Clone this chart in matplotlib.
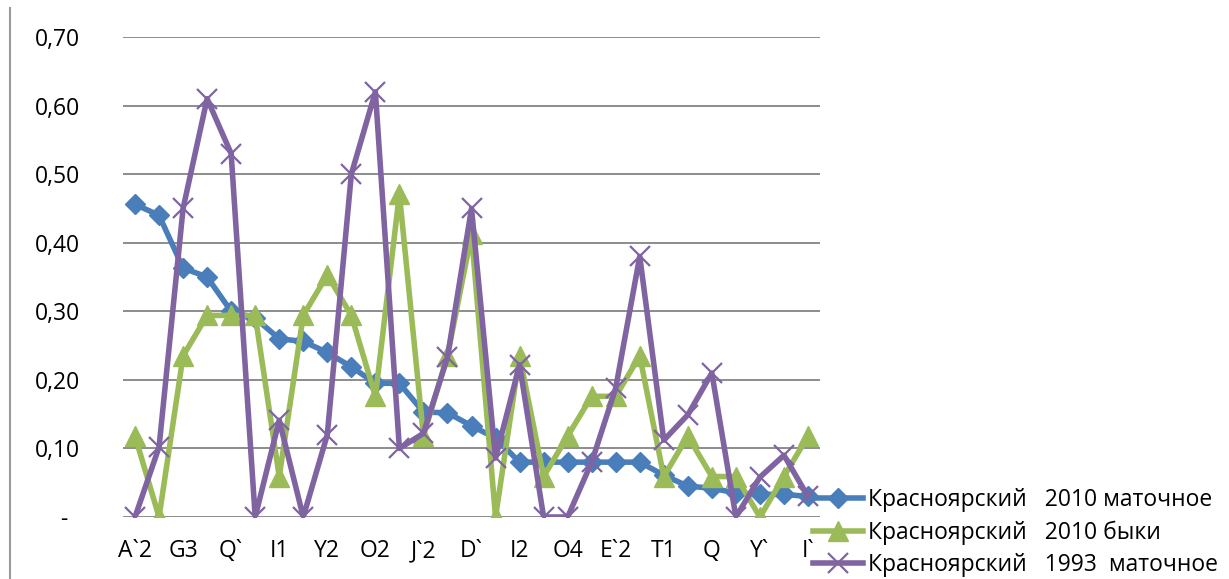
import matplotlib.pyplot as plt
import numpy as np
from matplotlib.lines import Line2D

plt.rcParams['font.family'] = ['Open Sans', 'DejaVu Sans']

# allele labels, shown on every second category
labels = ["A`2", "G3", "Q`", "I1", "Y2", "O2", "J`2", "D`", "I2", "O4", "E`2", "T1", "Q", "Y`", "I`"]

# frequencies per category (29 categories)
cows_2010 = [0.456, 0.44, 0.363, 0.35, 0.30, 0.29, 0.26, 0.256, 0.24, 0.219,
             0.195, 0.195, 0.153, 0.152, 0.133, 0.115, 0.08, 0.08, 0.08, 0.08,
             0.08, 0.08, 0.061, 0.045, 0.042, 0.035, 0.033, 0.033, 0.03]
bulls_2010 = [0.118, 0.0, 0.235, 0.294, 0.294, 0.294, 0.059, 0.294, 0.353, 0.294,
              0.176, 0.471, 0.118, 0.235, 0.412, 0.0, 0.235, 0.059, 0.118, 0.176,
              0.176, 0.235, 0.059, 0.118, 0.059, 0.059, 0.0, 0.059, 0.118]
cows_1993 = [0.0, 0.102, 0.45, 0.61, 0.53, 0.0, 0.141, 0.0, 0.12, 0.50,
             0.62, 0.10, 0.122, 0.233, 0.45, 0.086, 0.222, 0.0, 0.0, 0.08,
             0.188, 0.38, 0.112, 0.149, 0.21, 0.0, 0.058, 0.09, 0.03]

names = ["Красноярский   2010 маточное",
         "Красноярский   2010 быки",
         "Красноярский   1993  маточное"]

blue, green, purple = "#4a7ebb", "#9bbb59", "#8064a2"
fs = 16.5

fig = plt.figure(figsize=(12.29, 5.79), dpi=100)
ax = fig.add_axes([123/1229, 1 - 517/579, (820 - 123)/1229, (517 - 37)/579])

x = np.arange(len(cows_2010))
ax.plot(x, cows_2010, color=blue, lw=4, marker='D', ms=10, zorder=3)
ax.plot(x, bulls_2010, color=green, lw=4, marker='^', ms=14, zorder=4)
ax.plot(x, cows_1993, color=purple, lw=4, marker='x', ms=14, mew=1.6, zorder=5)

ax.set_xlim(-0.5, len(x) - 0.5)
ax.set_ylim(0, 0.70)

yt = np.arange(0, 0.71, 0.1)
ax.set_yticks(yt)
ax.set_yticklabels(["-  "] + [f"{v:.2f}".replace(".", ",") for v in yt[1:]], fontsize=fs)
ax.set_xticks(x[::2])
ax.set_xticklabels(labels, fontsize=fs)
ax.tick_params(axis='y', length=0, pad=31)
ax.tick_params(axis='x', length=0, pad=16)

ax.grid(axis='y', color='#8c8c8c', lw=1.4)
ax.set_axisbelow(True)
for s in ax.spines.values():
    s.set_visible(False)

# thin border line on the left edge of the chart
fig.add_artist(Line2D([10/1229, 10/1229], [0, 1 - 8/579], color='#9a9a9a', lw=1.5))

handles = [Line2D([], [], color=blue, lw=4, marker='D', ms=10),
           Line2D([], [], color=green, lw=4, marker='^', ms=14),
           Line2D([], [], color=purple, lw=4, marker='x', ms=14, mew=1.6)]
fig.legend(handles, names, loc='upper left', bbox_to_anchor=(813/1229, 1 - 488/579),
           frameon=False, fontsize=fs, handlelength=2.2, handletextpad=0.2,
           labelspacing=0.36, borderpad=0, borderaxespad=0)

fig.savefig("out.png", dpi=100)
